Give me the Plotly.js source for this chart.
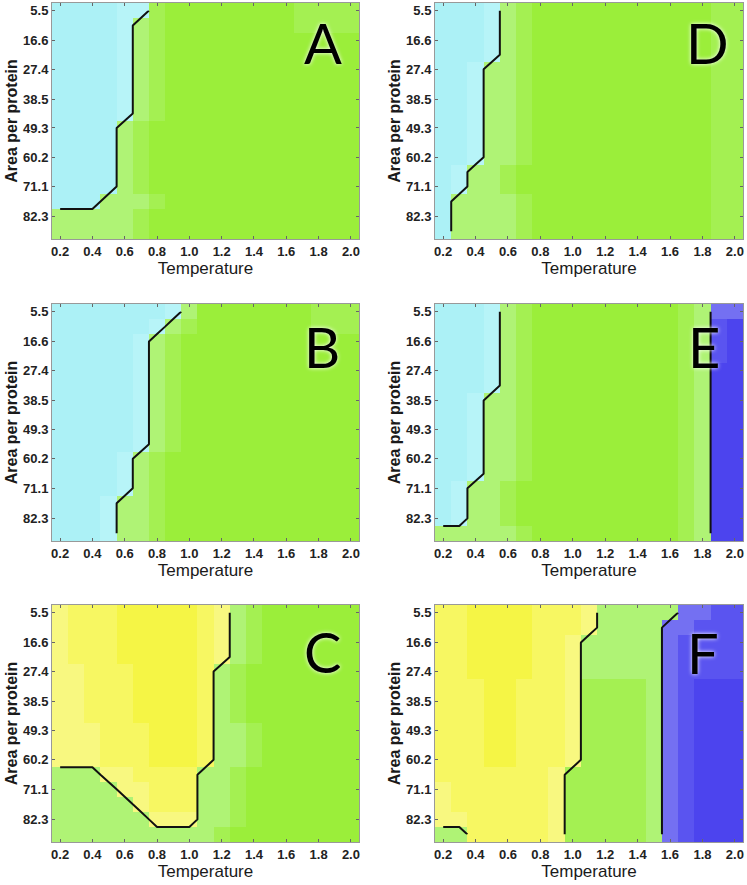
<!DOCTYPE html>
<html><head><meta charset="utf-8">
<script src="https://cdn.plot.ly/plotly-3.0.1.min.js"></script>
<style>html,body{margin:0;padding:0;background:#fff}#chart{width:747px;height:885px}</style>
</head><body><div id="chart"></div>
<script>
// ---- data ----
const temperature = [0.2,0.3,0.4,0.5,0.6,0.7,0.8,0.9,1.0,1.1,1.2,1.3,1.4,1.5,1.6,1.7,1.8,1.9,2.0];
const areaPerProtein = [5.5,11.1,16.6,22.0,27.4,33.0,38.5,43.9,49.3,54.8,60.2,65.7,71.1,76.7,82.3,87.9];
const areaTickValues = [5.5,16.6,27.4,38.5,49.3,60.2,71.1,82.3];
const areaTickLabels = ['5.5','16.6','27.4','38.5','49.3','60.2','71.1','82.3'];
const temperatureTicks = [0.2,0.4,0.6,0.8,1.0,1.2,1.4,1.6,1.8,2.0];
const panelLabels = ['A','D','B','E','C','F'];

// phase of each cell (rows = area per protein, columns = temperature)
// C/c cyan, G/h/g green, Y/u/y yellow, B/m/b blue (upper = strong, lower = faint)
const phasesA = [
 "CCCCcchGGGGGGGGhhhh",
 "CCCCcghGGGGGGGGhhhh",
 "CCCCcghGGGGGGGGGGGG",
 "CCCCcghGGGGGGGGGGGG",
 "CCCCcghGGGGGGGGGGGG",
 "CCCCcghGGGGGGGGGGGG",
 "CCCCcghGGGGGGGGGGGG",
 "CCCCcghGGGGGGGGGGGG",
 "CCCCghGGGGGGGGGGGGG",
 "CCCCghGGGGGGGGGGGGG",
 "CCCCghGGGGGGGGGGGGG",
 "CCCCghGGGGGGGGGGGGG",
 "CCCCghGGGGGGGGGGGGG",
 "CCCggghGGGGGGGGGGGG",
 "ggggghGGGGGGGGGGGGG",
 "ggggghGGGGGGGGGGGGG"];
const phasesD = [
 "CCCcghGGGGGGGGGGGhh",
 "CCCcghGGGGGGGGGGGhh",
 "CCCcghGGGGGGGGGGGhh",
 "CCCcghGGGGGGGGGGGhh",
 "CCcgghGGGGGGGGGGGhh",
 "CCcgghGGGGGGGGGGGhh",
 "CCcgghGGGGGGGGGGGhh",
 "CCcgghGGGGGGGGGGGhh",
 "CCcgghGGGGGGGGGGGhh",
 "CCcgghGGGGGGGGGGGhh",
 "CCcgghGGGGGGGGGGGhh",
 "CcgghGGGGGGGGGGGGhh",
 "CcgghGGGGGGGGGGGGhh",
 "CgggghGGGGGGGGGGGhh",
 "CgggghGGGGGGGGGGGhh",
 "CgggghGGGGGGGGGGGhh"];
const phasesB = [
 "CCCCCCCcgGGGGGGGhhh",
 "CCCCCCcghGGGGGGGhhh",
 "CCCCCcghGGGGGGGGGGG",
 "CCCCCcghGGGGGGGGGGG",
 "CCCCCcghGGGGGGGGGGG",
 "CCCCCcghGGGGGGGGGGG",
 "CCCCCcghGGGGGGGGGGG",
 "CCCCCcghGGGGGGGGGGG",
 "CCCCCcghGGGGGGGGGGG",
 "CCCCCcghGGGGGGGGGGG",
 "CCCCcghGGGGGGGGGGGG",
 "CCCCcghGGGGGGGGGGGG",
 "CCCCcghGGGGGGGGGGGG",
 "CCCcgghGGGGGGGGGGGG",
 "CCCcgghGGGGGGGGGGGG",
 "CCCcgghGGGGGGGGGGGG"];
const phasesE = [
 "CCCcghGGGGGGGGGhgbb",
 "CCCcghGGGGGGGGGhgmB",
 "CCCcghGGGGGGGGGhgmB",
 "CCCcghGGGGGGGGGhgmB",
 "CCCcghGGGGGGGGGhgBB",
 "CCCcghGGGGGGGGGhgBB",
 "CCcgghGGGGGGGGGhgBB",
 "CCcgghGGGGGGGGGhgBB",
 "CCcgghGGGGGGGGGhgBB",
 "CCcgghGGGGGGGGGhgBB",
 "CCcgghGGGGGGGGGhgBB",
 "CCcgghGGGGGGGGGhgBB",
 "CcgghGGGGGGGGGGhgBB",
 "CcgghGGGGGGGGGGhgBB",
 "CcgghGGGGGGGGGGhgBB",
 "ggggghGGGGGGGGGhgBB"];
const phasesC = [
 "yuuuYYYYYuyghGGGGGG",
 "yuuuYYYYYuyghGGGGGG",
 "yuuuYYYYYuyghGGGGGG",
 "yuuuYYYYYuyghGGGGGG",
 "yyuuuYYYYughGGGGGGG",
 "yyuuuYYYYughGGGGGGG",
 "yyuuuYYYYughGGGGGGG",
 "yyuuuYYYYughGGGGGGG",
 "yyyuuuYYYugghGGGGGG",
 "yyyuuuYYYugghGGGGGG",
 "yyyuuuYYYugghGGGGGG",
 "gggyyuuuugghGGGGGGG",
 "ggggyyuuugghGGGGGGG",
 "gggggyuuugghGGGGGGG",
 "ggggggyyygghGGGGGGG",
 "gggggggggghGGGGGGGG"];
const phasesF = [
 "uuYYYYuuuygggggbbmm",
 "uuYYYYuuuyggggbbmmm",
 "uuYYYYuuygggggbmmmm",
 "uuYYYYuuygggggbmmmm",
 "uuYYYYuuygggggbmmmm",
 "uuuYYuuuyhhhhgbmBBB",
 "uuuYYuuuyhhhhgbmBBB",
 "uuuYYuuuyhhhhgbmBBB",
 "uuuYYuuuyhhhhgbmBBB",
 "uuuYYuuuyhhhhgbmBBB",
 "uuuYYuuuyhhhhgbmBBB",
 "uuuuuuuyhhhhhgbmBBB",
 "yuuuuuuyhhhhhgbmBBB",
 "yuuuuuuyhhhhhgbmBBB",
 "yyuuuuuyhhhhhgbmBBB",
 "gguuuuuyhhhhhgbmBBB"];
const panelPhases = [phasesA, phasesD, phasesB, phasesE, phasesC, phasesF];

// ---- styling ----
const cellColours = {
  C:'#acf1f6', c:'#b7f4f8',
  G:'#9bee3a', h:'#a4f052', g:'#aff375',
  Y:'#f5f545', u:'#f7f762', y:'#f8f880',
  B:'#4c44ee', m:'#5a54f0', b:'#7470f2'
};
const phaseNumber = {C:0,c:0,Y:0,u:0,y:0,G:1,h:1,g:1,B:2,m:2,b:2};
const codes = Object.keys(cellColours);
const colorscale = codes.map((k,i)=>[i/(codes.length-1), cellColours[k]]);

const W = 747, H = 885;
const colX = [[52,359],[435,743]];
const rowY = [[3,239],[304,541],[605,842]];
const letterPos = [[323,42],[707,42],[322,347],[704,347],[322,651],[703,652]];

const traces = [];
const layout = {
  width: W, height: H, margin:{l:0,r:0,t:0,b:0},
  paper_bgcolor:'#fff', plot_bgcolor:'#fff', showlegend:false,
  font:{family:'Liberation Sans, Arial, sans-serif', color:'#222'},
  annotations: []
};

panelPhases.forEach((grid, p) => {
  const n = p+1;
  const xa = n===1 ? 'x' : 'x'+n, ya = n===1 ? 'y' : 'y'+n;
  const zCol = grid.map(row => row.split('').map(ch => codes.indexOf(ch)));
  const zPhase = grid.map(row => row.split('').map(ch => phaseNumber[ch]));
  traces.push({
    type:'heatmap', x: temperature, y: areaPerProtein, z: zCol,
    colorscale: colorscale, zmin:0, zmax: codes.length-1, showscale:false,
    zsmooth:false, hoverinfo:'skip', xaxis: xa, yaxis: ya
  });
  traces.push({
    type:'contour', x: temperature, y: areaPerProtein, z: zPhase,
    contours:{start:0.5, end:1.5, size:1, coloring:'none', showlabels:false},
    line:{color:'#111', width:2, smoothing:0},
    showscale:false, hoverinfo:'skip', xaxis: xa, yaxis: ya
  });
  const c = p % 2, r = Math.floor(p/2);
  const xKey = n===1 ? 'xaxis' : 'xaxis'+n, yKey = n===1 ? 'yaxis' : 'yaxis'+n;
  layout[xKey] = {
    domain:[colX[c][0]/W, colX[c][1]/W], anchor: ya,
    range:[0.15, 2.05], tickvals: temperatureTicks, tickformat:'.1f',
    ticks:'inside', ticklen:3, tickcolor:'#666', showline:true, mirror:'ticks',
    linecolor:'#999', linewidth:1, showgrid:false, zeroline:false,
    tickfont:{size:13, color:'#222', weight:'bold'}, automargin:false,
    title:{text:'Temperature', font:{size:17, color:'#1a1a1a'}, standoff:4}
  };
  layout[yKey] = {
    domain:[1-rowY[r][1]/H, 1-rowY[r][0]/H], anchor: xa,
    autorange:'reversed', tickvals: areaTickValues, ticktext: areaTickLabels,
    ticks:'inside', ticklen:3, tickcolor:'#666', showline:true, mirror:'ticks',
    linecolor:'#999', linewidth:1, showgrid:false, zeroline:false,
    tickfont:{size:13, color:'#222', weight:'bold'}, automargin:false,
    title:{text:'Area per protein', font:{size:16, color:'#1a1a1a', weight:'bold'}, standoff:1}
  };
  layout.annotations.push({
    xref:'paper', yref:'paper', x: letterPos[p][0]/W, y: 1-letterPos[p][1]/H,
    xanchor:'center', yanchor:'middle', showarrow:false, text: panelLabels[p],
    font:{family:'Lato, Open Sans, sans-serif', size:56, color:'#000', shadow:'0px 0px 4px #fff'}
  });
});

Plotly.newPlot('chart', traces, layout, {displayModeBar:false, staticPlot:true});
</script></body></html>
